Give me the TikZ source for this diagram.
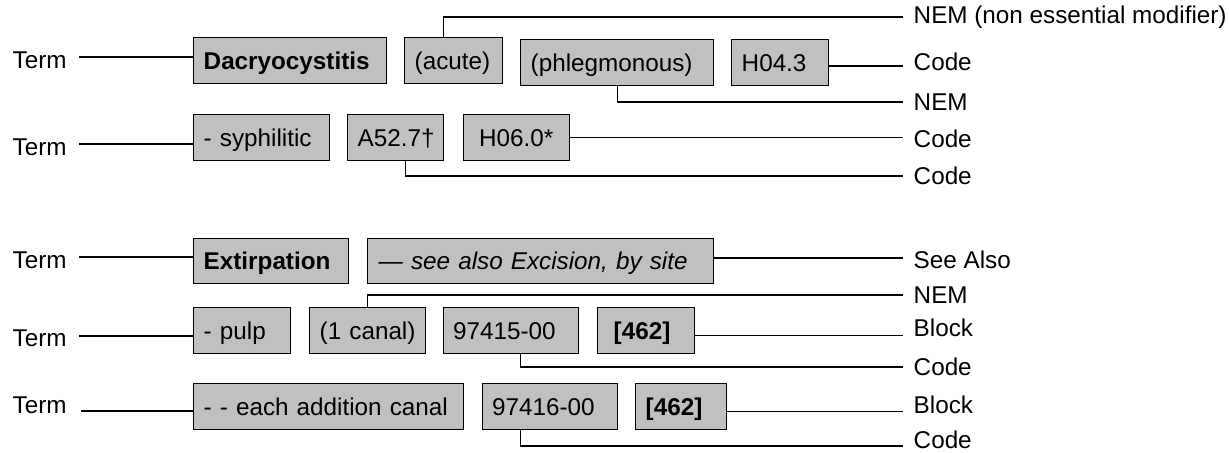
\documentclass[tikz,border=0pt]{standalone}
\usepackage{fontspec}
\setmainfont{Liberation Sans}

\tikzset{every picture/.style={line width=1.1pt}}
\tikzset{
  cell/.style={draw, fill={rgb, 255:red, 192; green, 192; blue, 192}, anchor=north west, align=left, inner xsep=7.5pt, inner ysep=0pt, minimum height=34.5pt, text height=17pt, text depth=4pt},
  term/.style={anchor=west, inner sep=0pt},
  tag/.style={anchor=west, inner sep=0pt}
}

\begin{document}
\begin{tikzpicture}[x=0.75pt,y=0.75pt,yscale=-1,xscale=1,font=\fontsize{18.2pt}{22pt}\selectfont]
	\useasboundingbox (0,0) rectangle (1229,453);

	% where the lines on the right stop
	\coordinate (rim) at (903,0);

	% Dacryocystitis
	\node[cell, text width=129.75pt] (dacry) at (193,37) {\textbf{Dacryocystitis}};
	\node[cell, text width=58.5pt] (acute) at (404,37) {(acute)};
	\node[cell, text width=129.75pt] (phleg) at (520,39) {(phlegmonous)};
	\node[cell, text width=57.75pt] (h043) at (731,39) {H04.3};
	\node[cell, text width=87pt] (syph) at (193,114) {- syphilitic};
	\node[cell, text width=57pt] (a527) at (347,114) {A52.7†};
	\node[cell, text width=56.5pt, inner xsep=11.5pt] (h060) at (463,114) {H06.0*};

	% Extirpation
	\node[cell, text width=101.25pt, minimum height=33.75pt] (extir) at (193,238) {\textbf{Extirpation}};
	\node[cell, text width=243pt, inner xsep=8.25pt, minimum height=33.75pt] (seeal) at (367,238) {\textit{— see also Excision, by site}};
	\node[cell, text width=57.75pt] (pulp) at (193,307) {- pulp};
	\node[cell, text width=72pt] (canal) at (309,307) {(1 canal)};
	\node[cell, text width=87pt, inner xsep=7pt] (c97415) at (443,307) {97415-00};
	\node[cell, text width=48.75pt, inner xsep=12pt] (b1) at (597,307) {\textbf{[462]}};
	\node[cell, text width=187.5pt] (each) at (193,383) {- - each addition canal};
	\node[cell, text width=87pt, inner xsep=7pt] (c97416) at (482,383) {97416-00};
	\node[cell, text width=53.25pt] (b2) at (635,383) {\textbf{[462]}};

	% Term labels
	\node[term] (tA1) at (12,60) {Term};
	\node[term] (tA2) at (12,147) {Term};
	\node[term] (tB1) at (12,260) {Term};
	\node[term] (tB2) at (12,338) {Term};
	\node[term] (tB3) at (12,405) {Term};

	% labels on the right
	\node[tag] (nem1) at (913,17) {NEM (non essential modifier)};
	\node[tag] (code1) at (913,62) {Code};
	\node[tag] (nem2) at (913,102) {NEM};
	\node[tag] (code2) at (913,139) {Code};
	\node[tag] (code3) at (913,176) {Code};
	\node[tag] (see) at (913,260) {See Also};
	\node[tag] (nem3) at (913,295) {NEM};
	\node[tag] (blk1) at (913,328) {Block};
	\node[tag] (code4) at (913,367) {Code};
	\node[tag] (blk2) at (913,405) {Block};
	\node[tag] (code5) at (913,440) {Code};

	% Term lines
	\draw ([xshift=9pt,yshift=-2.25pt]tA1.east) -- ([yshift=-2.25pt]tA1.east -| dacry.west);
	\draw ([xshift=9pt,yshift=-2.25pt]tA2.east) -- ([yshift=-2.25pt]tA2.east -| syph.west);
	\draw ([xshift=9pt,yshift=-2.25pt]tB1.east) -- ([yshift=-2.25pt]tB1.east -| extir.west);
	\draw ([xshift=9pt,yshift=-1.5pt]tB2.east) -- ([yshift=-1.5pt]tB2.east -| pulp.west);
	\draw ([xshift=10.5pt,yshift=4.5pt]tB3.east) -- ([yshift=4.5pt]tB3.east -| each.west);

	% lines to the right labels
	\draw ([xshift=-7.5pt]acute.north) |- (rim |- nem1.west);
	\draw ([yshift=2.6pt]h043.east) -- ([yshift=2.6pt]h043.east -| rim);
	\draw (phleg.south) |- (rim |- nem2.west);
	\draw (h060.east) -- (h060.east -| rim);
	\draw ([xshift=7.5pt]a527.south) |- (rim |- code3.west);
	\draw ([yshift=-2.6pt]seeal.east) -- ([yshift=-2.6pt]seeal.east -| rim);
	\draw (canal.north) |- (rim |- nem3.west);
	\draw ([yshift=3.4pt]b1.east) -- ([yshift=3.4pt]b1.east -| rim);
	\draw ([xshift=7.1pt]c97415.south) |- (rim |- code4.west);
	\draw ([yshift=3.75pt]b2.east) -- ([yshift=3.75pt]b2.east -| rim);
	\draw ([xshift=-22.1pt]c97416.south) |- ([yshift=4.5pt]rim |- code5.west);

\end{tikzpicture}
\end{document}
